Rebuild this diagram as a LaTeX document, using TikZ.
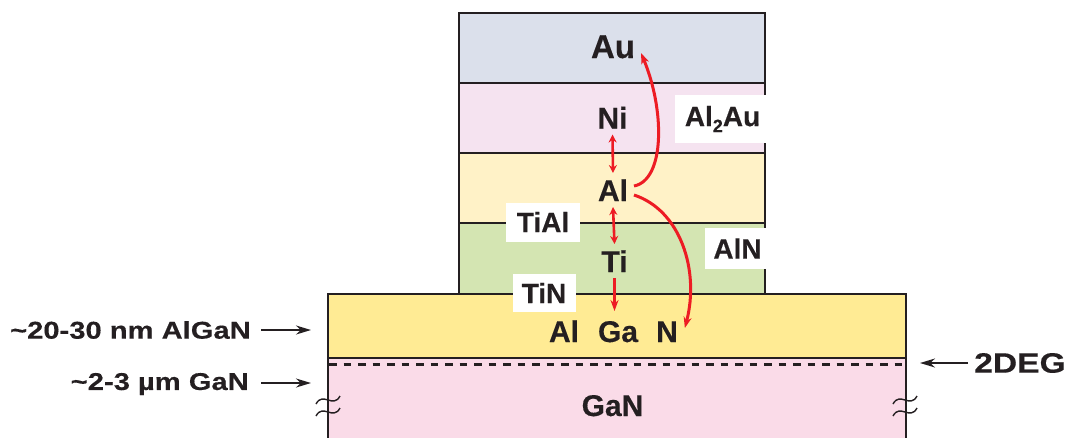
\documentclass[tikz,border=0pt]{standalone}
\usepackage{fontspec}
\setmainfont[BoldFeatures={FakeBold=0.35}]{Liberation Sans}
\newfontfamily\sidefont[FakeStretch=1.2,BoldFeatures={FakeBold=0.35,FakeStretch=1.2}]{Liberation Sans}
\usetikzlibrary{arrows.meta,positioning}
\definecolor{darkClj}{rgb}{0.14,0.12,0.13}
\definecolor{redClj}{rgb}{0.93,0.11,0.14}
\definecolor{auClj}{rgb}{0.86,0.88,0.92}
\definecolor{niClj}{rgb}{0.96,0.89,0.94}
\definecolor{alClj}{rgb}{1.0,0.95,0.78}
\definecolor{tiClj}{rgb}{0.83,0.9,0.70}
\definecolor{alganClj}{rgb}{1.0,0.92,0.58}
\definecolor{ganClj}{rgb}{0.98,0.86,0.91}
\tikzset{
	layer/.style={draw=darkClj, line width=1.9pt, inner sep=0pt, outer sep=0pt, minimum width=306pt, minimum height=70pt},
	atom/.style={text=darkClj, font=\bfseries\fontsize{30}{32}\selectfont, inner sep=6pt, outer sep=0pt, text height=22pt, text depth=0pt},
	compound/.style={fill=white, text=darkClj, font=\bfseries\fontsize{28}{30}\selectfont, inner sep=0pt, outer sep=0pt},
	side/.style={text=darkClj, font=\sidefont\bfseries\fontsize{24.3}{26}\selectfont, inner sep=0pt},
	redline/.style={draw=redClj, line width=3pt, -{Stealth[length=11pt,width=8pt]}},
	redboth/.style={draw=redClj, line width=2.6pt, {Stealth[length=8pt,width=8pt]}-{Stealth[length=8pt,width=8pt]}},
	blackline/.style={draw=darkClj, line width=1.9pt, -{Stealth[length=15pt,width=9pt]}},
	squiggle/.style={draw=darkClj, line width=1.4pt}
}
\begin{document}
\begin{tikzpicture}[x=1pt,y=-1pt]
	\useasboundingbox (0,0) rectangle (1070,437);
	% layers
	\node[layer, fill=ganClj, draw=none, minimum width=578pt, minimum height=90pt] (lgan) at (617,403) {};
	\node[layer, fill=auClj] (lau) at (612,48) {};
	\node[layer, fill=niClj] (lni) at (612,118) {};
	\node[layer, fill=alClj] (lal) at (612,188) {};
	\node[layer, fill=tiClj] (lti) at (612,258.5) {};
	\node[layer, fill=alganClj, minimum width=578pt, minimum height=64pt] (lalgan) at (617,326) {};
	\draw[darkClj, line width=1.9pt] (lgan.north west) -- (lgan.south west);
	\draw[darkClj, line width=1.9pt] (lgan.north east) -- (lgan.south east);
	\draw[darkClj, line width=3pt, dash pattern=on 7.5pt off 7pt] (329,364) -- (905,364);

	% compounds
	\node[compound, minimum width=92pt, minimum height=48pt] (c1) at (721,119) {\hspace*{3pt}Al\raisebox{-6pt}{\fontsize{18}{18}\selectfont 2}Au};
	\node[compound, minimum width=62pt, minimum height=41pt] (c2) at (736,248.5) {\hspace*{3pt}AlN};
	\node[compound, minimum width=74pt, minimum height=39pt] (c3) at (543,222) {TiAl};
	\node[compound, minimum width=63pt, minimum height=38pt] (c4) at (544,293) {TiN};

	% atoms
	\node[atom, font=\bfseries\fontsize{33}{35}\selectfont] (au) at (613,47) {Au};
	\node[atom] (ni) at (612.5,117.5) {Ni};
	\node[atom] (al) at (613,190) {Al};
	\node[atom] (ti) at (614.5,261) {Ti};
	\node[atom] (a1) at (564,331) {Al};
	\node[atom] (a2) at (618,331) {Ga};
	\node[atom] (a3) at (667,331) {N};
	\node[atom] (gan) at (612.5,405) {GaN};

	% red arrows
	\draw[redboth] (ni.south) -- (al.north);
	\draw[redboth] (al.south) -- (ti.north);
	\draw[redline, shorten >=3pt] (ti.south) -- (ti.south |- a2.north);
	\draw[redline] ([yshift=4]al.east) .. controls (665,180) and (665,110) .. ([yshift=-6]au.east);
	\draw[redline] ([yshift=-5]al.east) .. controls (680,210) and (700,270) .. ([shift={(1,-3)}]a3.east);

	% side labels
	\node[side, anchor=east] (s1) at (251,330) {\char"007E 20-30 nm AlGaN};
	\node[side, anchor=east] (s2) at (249,384) {\char"007E 2-3 µm GaN};
	\node[side, anchor=west, font=\sidefont\bfseries\fontsize{28}{30}\selectfont] (s3) at (974,363) {2DEG};
	\coordinate (e1) at (311,330);
	\coordinate (e2) at (311,383);
	\coordinate (e3) at (920,363);
	\draw[blackline] (s1.east) ++(10,0) -- (e1);
	\draw[blackline] (s2.east) ++(12,-1) -- (e2);
	\draw[blackline] (s3.west) ++(-6,0) -- (e3);

	% breaks
	\foreach \x in {328,905}{
		\foreach \y in {400,412}{
			\draw[squiggle] (\x-12,\y+4) .. controls (\x-5,\y-9) and (\x+5,\y+9) .. (\x+12,\y-4);
		}
	}
\end{tikzpicture}
\end{document}
